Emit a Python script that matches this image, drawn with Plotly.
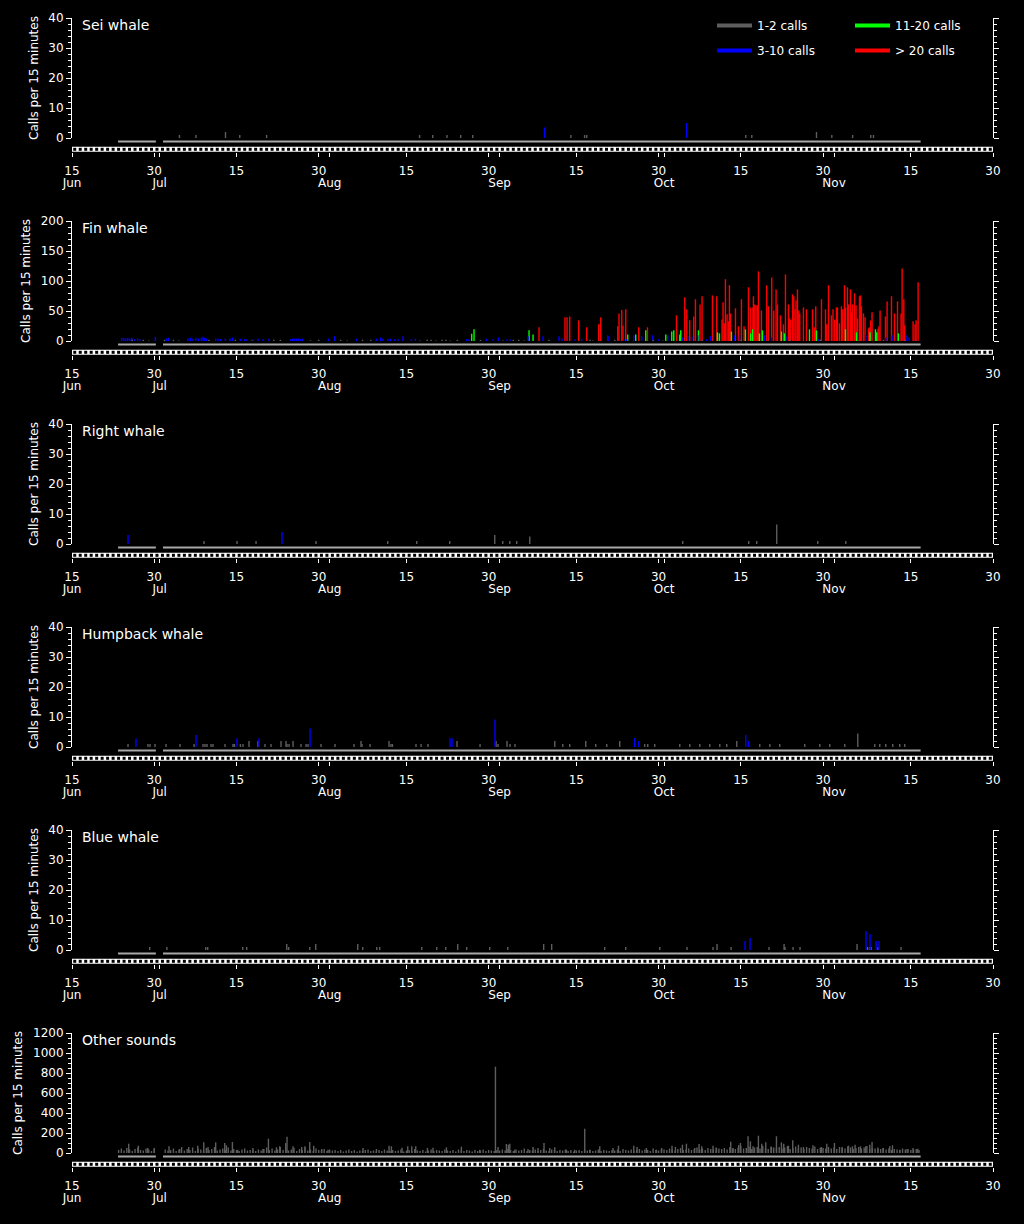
import pandas as pd
import plotly.graph_objects as go

FONT = "DejaVu Sans"
BASE_DATE = pd.Timestamp("2015-06-15")   # time values below are days after 15 Jun
AXIS_START = "2015-06-15"
AXIS_END = "2015-11-30"

GRAY, BLUE, GREEN, RED = "#5e5e5e", "#0000ff", "#00ff00", "#ff0000"

# ---------------- data (time in days after 15 Jun, value in calls per 15 min) ----------------
sei_gray_t = [19.6, 22.6, 28.0, 30.6, 35.5, 63.4, 65.8, 68.4, 70.9, 73.1, 91.0, 93.5, 93.9,
              122.9, 124.0, 135.8, 138.6, 142.4, 145.7, 146.2]
sei_gray_v = [1, 1, 2, 1, 1, 1, 1, 1, 1, 1, 1, 1, 1, 1, 1, 2, 1, 1, 1, 1]
sei_blue_t = [86.2, 112.1]
sei_blue_v = [3.5, 5]

fin_gray_t = [11.0, 13.0, 14.0, 16.9, 18.5, 19.5, 25.0, 29.8, 33.0, 36.8, 38.0, 43.5, 45.0, 49.0,
              50.2, 53.0, 54.5, 63.5, 64.8, 65.5, 66.4, 67.5, 68.2, 69.0, 70.3, 74.5, 78.6, 80.5,
              81.5, 82.5, 87.0, 94.5, 95.0, 99.0, 106.0, 107.8, 115.0, 122.0, 127.0, 131.0, 136.5,
              143.5, 148.0, 152.0, 154.0]
fin_gray_v = [2, 2, 1, 2, 2, 1, 2, 2, 1, 2, 2, 1, 2, 2, 1, 2, 2, 1, 2, 2, 1, 2, 2, 1, 2, 2, 1, 2,
              2, 1, 2, 2, 1, 2, 2, 1, 2, 2, 1, 2, 2, 1, 2, 2, 1]
fin_blue_t = [9.07, 9.43, 9.80, 10.16, 10.53, 10.89, 11.44, 11.99, 12.35, 15.21, 17.22, 17.64,
              21.16, 21.60, 22.07, 22.57, 23.06, 23.61, 23.90, 24.21, 24.52, 26.21, 26.63, 27.07,
              27.98, 28.82, 29.26, 30.72, 31.50, 31.92, 32.78, 33.93, 34.84, 35.94, 39.84, 40.21,
              40.57, 40.94, 41.30, 41.67, 42.03, 46.77, 47.92, 51.88, 55.53, 56.31, 56.73, 57.65,
              58.08, 58.87, 59.47, 60.38, 61.91, 62.64, 71.95, 72.42, 75.60, 76.80, 77.79,
              79.35, 79.90, 83.18, 85.92, 88.84, 89.39, 91.76, 92.98, 97.72, 97.96, 100.64, 101.19,
              102.47, 103.93, 105.94, 107.03, 108.67, 111.35, 112.32, 113.05, 114.14, 115.73,
              116.46, 120.84, 121.75, 126.31, 127.58, 130.43, 136.21, 144.79, 148.44, 149.59,
              152.32, 152.69]
fin_blue_v = [5.5, 5.5, 4, 5.5, 4, 5.5, 3, 4, 3, 7, 4, 5.5,
              4, 5.5, 4, 5.5, 4, 5.5, 7, 5.5, 4, 4, 4, 3,
              4, 4, 6, 4, 3, 3, 3, 4, 3, 4, 3, 4,
              4, 4, 4, 3, 4, 4, 8, 4, 4, 6, 4, 3,
              4, 3, 3, 8, 3, 4, 3, 3, 4, 3, 6,
              3, 3, 8, 8, 8, 4, 3, 3, 9.5, 8, 3, 3,
              9.5, 8, 9.5, 3, 9.5, 6, 8, 8, 9.5, 3,
              8, 9.5, 9.5, 9.5, 6, 8, 3, 9.5, 6, 9.5,
              9.5, 6]
fin_green_t = [72.91, 73.33, 83.37, 84.10, 101.37, 102.83, 104.66, 108.31, 109.40, 109.77, 110.86,
               111.04, 114.27, 117.74, 118.10, 120.29, 122.84, 123.75, 124.12, 125.40, 125.94,
               129.41, 129.96, 134.52, 135.80, 141.09, 143.09, 145.57, 146.56, 146.80, 150.76]
fin_green_v = [12, 19.5, 17.8, 11, 11, 11, 17.8, 11, 16, 17.8, 11,
               17.8, 17.8, 14.5, 12.8, 16, 19.5, 12.8, 19.5, 12.8, 17.8,
               16, 12.8, 19.5, 17.8, 19.5, 14.5, 14.5, 19.5, 14.5, 12.8]
fin_red_t = [85.19, 89.93, 90.30, 90.79, 92.43, 93.89, 96.08, 96.45, 99.55, 99.78,
             100.28, 100.51, 101.01, 103.38, 104.97, 110.26, 111.77, 112.14, 112.68, 113.41,
             113.72, 114.56, 114.93, 116.82, 117.61, 118.57, 118.76, 119.01, 119.19, 119.49,
             119.74, 119.92, 120.11, 121.02, 121.56, 122.11, 122.59, 123.39, 123.81, 124.20,
             124.30, 124.54, 124.78, 125.03, 125.21, 125.76, 126.73, 127.04, 127.64, 128.01,
             128.43, 128.68, 129.23, 129.78, 130.14, 130.69, 130.87, 131.11, 131.42, 131.66,
             131.89, 132.07, 132.33, 132.57, 132.75, 133.42, 133.97, 135.07, 135.43, 135.67,
             136.71, 137.44, 137.68, 137.99, 138.53, 138.82, 139.13, 139.44, 139.62, 139.99,
             140.35, 140.59, 140.90, 141.09, 141.45, 141.63, 142.00, 142.18, 142.36, 142.73,
             143.02, 143.28, 143.64, 143.82, 144.00, 144.37, 144.66, 145.28, 145.46, 145.70,
             145.94, 147.03, 147.21, 147.40, 148.38, 148.68, 149.48, 150.03, 150.58, 151.23,
             151.42, 151.73, 151.91, 153.42, 153.78, 153.97, 154.34]
fin_red_v = [22.8, 39.5, 39.5, 41, 34.5, 22.8, 27.8, 39.5, 24.5, 46,
             51.7, 26, 52.8, 22.8, 22.8, 42.8, 72.8, 52.8, 34.5, 41,
             69.5, 61, 74.5, 76, 74.5, 36, 64.5, 29.5, 103, 44.5,
             32.8, 93, 46, 54.5, 24.5, 69.5, 24.5, 89.5, 56, 56,
             74.5, 61, 59.5, 59.5, 116, 51, 93, 57.8, 106, 51,
             86, 61, 42.8, 27.8, 111, 61, 37.8, 36, 77.8, 74.5,
             52.8, 67.8, 86, 51, 46, 56, 52.8, 52.8, 22.8, 57.8,
             69.5, 52.8, 27.8, 93, 42.8, 52.8, 36, 56, 56, 29.5,
             57.8, 52.8, 93, 56, 89.5, 61, 86, 47.8, 61, 79.5,
             59.5, 37.8, 74.5, 76, 57.8, 46, 39.5, 21, 22.8, 34.5,
             47.8, 21, 24.5, 51, 41, 66, 74.5, 46, 66, 46,
             121, 69.5, 26, 32.8, 27.8, 34.5, 98]

right_gray_t = [24.08, 30.10, 33.57, 44.51, 57.59, 62.88, 68.90, 77.11, 78.57, 79.85, 81.12, 83.50,
                111.40, 123.44, 124.90, 128.55, 136.03, 141.14]
right_gray_v = [1, 1, 1, 1, 1, 1, 1, 3, 1, 1, 1, 2.5, 1, 1, 1, 6.5, 1, 1]
right_blue_t = [10.22, 38.31]
right_blue_v = [3, 4]

hump_gray_t = [10.22, 13.86, 14.23, 15.14, 17.15, 19.70, 22.26, 23.90, 24.26, 24.63,
               25.36, 25.72, 27.91, 29.37, 29.63, 30.72, 31.19, 32.29, 33.93, 35.21,
               36.30, 38.13, 39.04, 39.22, 39.59, 40.32, 41.77, 42.69, 43.05, 45.42,
               47.98, 51.44, 52.72, 52.90, 54.36, 57.83, 58.19, 58.45, 62.75, 63.67,
               64.94, 70.23, 74.43, 77.35, 77.71, 79.35, 79.90, 80.81, 88.06, 89.52,
               90.79, 93.71, 95.53, 97.54, 99.91, 104.47, 105.02, 106.30, 110.86, 112.68,
               114.51, 116.33, 118.16, 119.43, 121.26, 125.45, 127.28, 129.10, 133.66, 136.40,
               138.22, 140.96, 143.33, 146.43, 147.34, 148.44, 149.71, 150.99, 151.90]
hump_gray_v = [1, 1, 1, 1, 1, 1, 1, 1, 1, 1,
               1, 1, 1, 1, 1, 1, 1, 2, 2, 1,
               1, 2, 2, 1, 1, 2, 1, 1, 1, 1,
               1, 1, 2, 1, 1, 2, 1, 1, 1, 1,
               1, 2, 1, 2, 1, 2, 1, 1, 2, 1,
               1, 2, 1, 1, 2, 1, 1, 1, 1, 1,
               1, 1, 1, 1, 2, 1, 1, 1, 1, 1,
               1, 1, 4.5, 1, 1, 1, 1, 1, 1]
hump_blue_t = [11.67, 22.62, 30.10, 34.11, 43.42, 68.96, 69.32, 77.16, 102.65, 103.38, 122.90, 123.44]
hump_blue_v = [2.8, 4, 2.9, 2.9, 6.2, 2.9, 2.9, 9.2, 3, 2, 4, 2]

bluew_gray_t = [14.17, 17.30, 24.39, 24.75, 31.14, 31.87, 39.17, 39.53, 43.36, 44.46,
                52.12, 53.03, 55.59, 56.13, 63.79, 66.53, 68.17, 70.36, 72.00, 76.19,
                79.48, 86.04, 87.50, 97.17, 101.00, 107.21, 112.19, 116.93, 117.66, 120.22,
                127.15, 129.89, 130.07, 131.53, 132.80, 143.20, 145.10, 145.46, 145.76, 147.03,
                151.23]
bluew_gray_v = [1, 1, 1, 1, 1, 1, 2, 1, 1, 2,
                2, 1, 1, 1, 1, 1, 1, 2, 1, 1,
                1, 2, 2, 1, 1, 1, 1, 1, 2, 1,
                1, 2, 1, 1, 1, 2, 1, 1, 1, 1,
                1]
bluew_blue_t = [122.77, 123.68, 144.84, 145.57, 146.67, 147.21]
bluew_blue_v = [3, 4, 6.3, 5.3, 3, 3]

# other sounds: half-day background counts from 8.5 to 154.5 days, plus individual peaks
other_base_t0, other_base_step = 8.5, 0.5
other_base_v = [30, 45, 25, 50, 35, 20, 40, 55, 30, 25, 45, 35, 20, 40, 0, 0, 0, 35, 25, 30,
                45, 20, 35, 60, 25, 40, 30, 55, 20, 45, 35, 25, 50, 30, 40, 60, 25, 35, 45, 30,
                55, 25, 40, 30, 20, 35, 45, 25, 30, 50, 20, 35, 25, 40, 55, 30, 45, 25, 35, 60,
                30, 45, 25, 35, 50, 20, 40, 30, 55, 25, 35, 20, 45, 30, 25, 40, 20, 35, 25, 30,
                20, 30, 15, 25, 35, 20, 30, 15, 25, 20, 30, 35, 20, 25, 15, 30, 20, 35, 25, 20,
                30, 20, 25, 35, 15, 25, 30, 20, 40, 25, 20, 30, 15, 25, 35, 20, 30, 25, 20, 35,
                25, 20, 30, 15, 35, 25, 20, 30, 25, 15, 30, 20, 25, 35, 20, 30, 25, 20, 30, 25,
                35, 25, 40, 30, 20, 35, 25, 30, 45, 20, 30, 25, 35, 20, 30, 40, 25, 20, 35, 30,
                20, 30, 25, 35, 20, 30, 15, 25, 30, 20, 35, 25, 30, 20, 25, 35, 20, 30, 25, 20,
                30, 25, 35, 20, 40, 30, 25, 35, 20, 30, 40, 25, 35, 30, 20, 45, 30, 25, 40, 35,
                30, 45, 35, 25, 40, 50, 30, 35, 45, 30, 40, 55, 35, 45, 30, 50, 40, 35, 55, 45,
                40, 50, 35, 60, 45, 40, 55, 70, 45, 50, 65, 40, 55, 60, 45, 70, 50, 40, 65, 55,
                50, 60, 45, 55, 70, 40, 50, 65, 45, 55, 40, 60, 50, 45, 65, 40, 55, 50, 45, 60,
                45, 55, 40, 60, 50, 45, 65, 55, 40, 50, 60, 45, 55, 70, 40, 50, 45, 55, 40, 50,
                35, 45, 30, 40, 35, 30, 45, 35, 40, 30, 35, 40, 30]
other_peak_t = [10.34, 12.11, 13.81, 15.0, 17.70, 19.65, 21.29, 22.93, 24.03, 24.81,
                26.21, 27.86, 28.17, 29.26, 30.23, 33.02, 34.84, 35.83, 37.29, 37.89,
                38.98, 39.22, 40.32, 41.90, 42.50, 43.36, 44.09, 45.55, 46.70, 53.08,
                55.53, 57.83, 58.26, 60.20, 61.24, 61.97, 62.70, 64.83, 65.85, 68.30,
                71.03, 74.37, 77.24, 77.71, 79.24, 79.61, 79.85, 80.76, 83.18, 84.10,
                85.01, 86.10, 87.14, 88.06, 90.19, 91.70, 93.53, 94.44, 96.27, 98.69,
                99.68, 102.47, 103.07, 104.78, 106.61, 107.57, 109.45, 110.07, 111.35, 112.08,
                113.59, 114.38, 114.87, 116.93, 117.55, 120.16, 120.58, 121.62, 121.93, 123.32,
                123.75, 124.23, 125.21, 125.82, 126.55, 127.59, 128.50, 129.41, 129.83, 130.69,
                131.47, 132.51, 133.42, 135.17, 136.71, 137.68, 139.08, 140.47, 141.63, 142.36,
                142.84, 143.82, 144.79, 145.52, 145.94, 147.03, 147.94, 149.17, 149.66, 150.99,
                152.32, 153.42, 154.28]
other_peak_v = [93, 73, 50, 50, 67, 40, 60, 73, 107, 60,
                107, 100, 77, 110, 33, 27, 40, 143, 57, 67,
                100, 163, 67, 60, 67, 110, 73, 40, 33, 50,
                40, 73, 67, 53, 67, 67, 67, 50, 53, 57,
                63, 33, 863, 60, 90, 83, 93, 33, 40, 60,
                50, 100, 50, 57, 33, 33, 243, 33, 67, 50,
                73, 73, 60, 50, 33, 50, 73, 60, 83, 93,
                50, 90, 67, 73, 50, 113, 50, 80, 100, 167,
                117, 67, 173, 93, 107, 60, 167, 107, 93, 73,
                127, 83, 60, 77, 60, 93, 100, 60, 73, 67,
                83, 67, 67, 83, 110, 40, 50, 67, 77, 33,
                40, 50, 43]

# recording effort (days after 15 Jun)
effort_start, effort_end = 8.4, 154.8
effort_gap_start, effort_gap_end = 15.3, 16.6

# x-axis ticks: day-of-month ticks and month ticks (days after 15 Jun)
day_tick_days = [0, 15, 30, 45, 61, 76, 92, 107, 122, 137, 153, 168]
day_tick_labels = ["15", "30", "15", "30", "15", "30", "15", "30", "15", "30", "15", "30"]
month_tick_days = [0, 16, 47, 78, 108, 139]
month_tick_labels = ["Jun", "Jul", "Aug", "Sep", "Oct", "Nov"]

legend_rows = [[("1-2 calls", GRAY), ("11-20 calls", GREEN)],
               [("3-10 calls", BLUE), ("> 20 calls", RED)]]

panels = [
    dict(name="Sei whale", ymax=40, major=10, minor=2,
         series=[(sei_gray_t, sei_gray_v, GRAY), (sei_blue_t, sei_blue_v, BLUE)]),
    dict(name="Fin whale", ymax=200, major=50, minor=10,
         series=[(fin_red_t, fin_red_v, RED), (fin_green_t, fin_green_v, GREEN),
                 (fin_blue_t, fin_blue_v, BLUE), (fin_gray_t, fin_gray_v, GRAY)]),
    dict(name="Right whale", ymax=40, major=10, minor=2,
         series=[(right_gray_t, right_gray_v, GRAY), (right_blue_t, right_blue_v, BLUE)]),
    dict(name="Humpback whale", ymax=40, major=10, minor=2,
         series=[(hump_gray_t, hump_gray_v, GRAY), (hump_blue_t, hump_blue_v, BLUE)]),
    dict(name="Blue whale", ymax=40, major=10, minor=2,
         series=[(bluew_gray_t, bluew_gray_v, GRAY), (bluew_blue_t, bluew_blue_v, BLUE)]),
    dict(name="Other sounds", ymax=1200, major=200, minor=50,
         series=[([other_base_t0 + other_base_step * i for i in range(len(other_base_v))],
                  other_base_v, GRAY),
                 (other_peak_t, other_peak_v, GRAY)]),
]


# ---------------- helpers ----------------
def when(days):
    return [(BASE_DATE + pd.Timedelta(days=float(d))).strftime("%Y-%m-%d %H:%M:%S")
            for d in days]


def stems(days, values):
    assert len(days) == len(values)
    xs, ys = [], []
    for x, v in zip(when(days), values):
        if v <= 0:
            continue
        xs += [x, x, None]
        ys += [0, v, None]
    return xs, ys


def ax_id(k):
    return "" if k == 1 else str(k)


W, H = 1024, 1224
ML, MR = 72, 31
PLOT_W = W - ML - MR
PLOT_H = 120      # px height of each panel's plot area
PANEL_STEP = 203  # px from one panel to the next
FIRST_BASE = 138  # px position of the zero line of the first panel
STRIP_H = 14
EFFORT_Y, BAND_Y = 3.5, 11.3
NP = len(panels)

tickfont = dict(family=FONT, size=12, color="white")
fig = go.Figure()
layout = dict(width=W, height=H, paper_bgcolor="black", plot_bgcolor="black",
              margin=dict(l=ML, r=MR, t=0, b=0, autoexpand=False), showlegend=True,
              font=dict(family=FONT, color="white", size=12), annotations=[])

day_mid = [d + 0.5 for d in range(int(day_tick_days[-1]))]

for i, p in enumerate(panels):
    B = FIRST_BASE + PANEL_STEP * i
    km, ks, kn = i + 1, NP + i + 1, 2 * NP + i + 1
    xm, ym = "x" + ax_id(km), "y" + ax_id(km)
    xs_, ys_ = "x" + ax_id(ks), "y" + ax_id(ks)
    xn = "x" + ax_id(kn)

    # main panel bars
    for t, v, c in p["series"]:
        bx, by = stems(t, v)
        fig.add_trace(go.Scatter(x=bx, y=by, mode="lines", line=dict(color=c, width=1.4),
                                 xaxis=xm, yaxis=ym, showlegend=False, hoverinfo="skip"))

    # strip: effort line, calendar band, day squares
    ex = when([effort_start, effort_gap_start]) + [None] + when([effort_gap_end, effort_end])
    fig.add_trace(go.Scatter(x=ex, y=[EFFORT_Y, EFFORT_Y, None, EFFORT_Y, EFFORT_Y], mode="lines",
                             line=dict(color="#a8a8a8", width=2), xaxis=xs_, yaxis=ys_,
                             showlegend=False, hoverinfo="skip"))
    fig.add_trace(go.Scatter(x=[AXIS_START, AXIS_END], y=[BAND_Y, BAND_Y], mode="lines",
                             line=dict(color="white", width=5), xaxis=xs_, yaxis=ys_,
                             showlegend=False, hoverinfo="skip"))
    fig.add_trace(go.Scatter(x=when(day_mid), y=[BAND_Y] * len(day_mid), mode="markers",
                             marker=dict(symbol="square", size=3, color="black",
                                         line=dict(width=0)),
                             xaxis=xs_, yaxis=ys_, showlegend=False, hoverinfo="skip"))
    # empty trace so that the month-label axis is drawn
    fig.add_trace(go.Scatter(x=[AXIS_START], y=[None], mode="lines", xaxis=xn, yaxis=ys_,
                             showlegend=False, hoverinfo="skip"))

    layout["xaxis" + ax_id(km)] = dict(domain=[0, 1], type="date", range=[AXIS_START, AXIS_END],
                                       visible=False, anchor=ym, fixedrange=True)
    layout["yaxis" + ax_id(km)] = dict(
        domain=[1 - B / H, 1 - (B - PLOT_H) / H], range=[0, p["ymax"]], anchor=xm,
        showline=True, linecolor="white", linewidth=1, mirror="ticks",
        ticks="outside", ticklen=5, tickwidth=1, tickcolor="white",
        tickmode="array", tickvals=list(range(0, p["ymax"] + 1, p["major"])),
        minor=dict(tickmode="linear", tick0=0, dtick=p["minor"], ticks="outside", ticklen=3,
                   tickwidth=1, tickcolor="white", showgrid=False),
        tickfont=tickfont, showgrid=False, zeroline=False,
        automargin=False, fixedrange=True,
        title=dict(text="Calls per 15 minutes", font=tickfont, standoff=7))
    common_x = dict(domain=[0, 1], type="date", range=[AXIS_START, AXIS_END], anchor=ys_,
                    side="bottom", showline=False, showgrid=False, zeroline=False,
                    ticks="outside", ticklen=4, tickwidth=1, tickcolor="white",
                    tickmode="array", tickangle=0, tickfont=tickfont, automargin=False,
                    fixedrange=True)
    layout["xaxis" + ax_id(ks)] = dict(common_x, tickvals=when(day_tick_days),
                                       ticktext=day_tick_labels, ticklabelstandoff=4)
    layout["xaxis" + ax_id(kn)] = dict(common_x, overlaying=xs_, tickvals=when(month_tick_days),
                                       ticktext=month_tick_labels, ticklabelstandoff=16)
    layout["yaxis" + ax_id(ks)] = dict(domain=[1 - (B + STRIP_H) / H, 1 - B / H],
                                       range=[STRIP_H, 0], visible=False, anchor=xs_,
                                       fixedrange=True)
    layout["annotations"].append(dict(
        text=p["name"], xref=xm + " domain", yref=ym + " domain", x=0, y=1,
        xanchor="left", yanchor="top", xshift=8, yshift=3, showarrow=False,
        font=dict(family=FONT, size=14, color="white")))

# legend (two rows, drawn as two legends)
for r, row in enumerate(legend_rows):
    lg = "legend" if r == 0 else "legend2"
    for name, c in row:
        fig.add_trace(go.Scatter(x=[None], y=[None], mode="lines", name=name,
                                 line=dict(color=c, width=4), xaxis="x", yaxis="y", legend=lg))
    layout[lg] = dict(orientation="h", x=(712 - ML) / PLOT_W, y=1 - (11 + 25 * r) / H,
                      xanchor="left", yanchor="top", entrywidth=88, entrywidthmode="pixels",
                      itemwidth=35,
                      bgcolor="rgba(0,0,0,0)", font=dict(family=FONT, size=12, color="white"),
                      itemclick=False, itemdoubleclick=False)

fig.update_layout(**layout)
fig.write_html("out.html", post_script="document.body.style.margin='0';",
               config={"displayModeBar": False})
